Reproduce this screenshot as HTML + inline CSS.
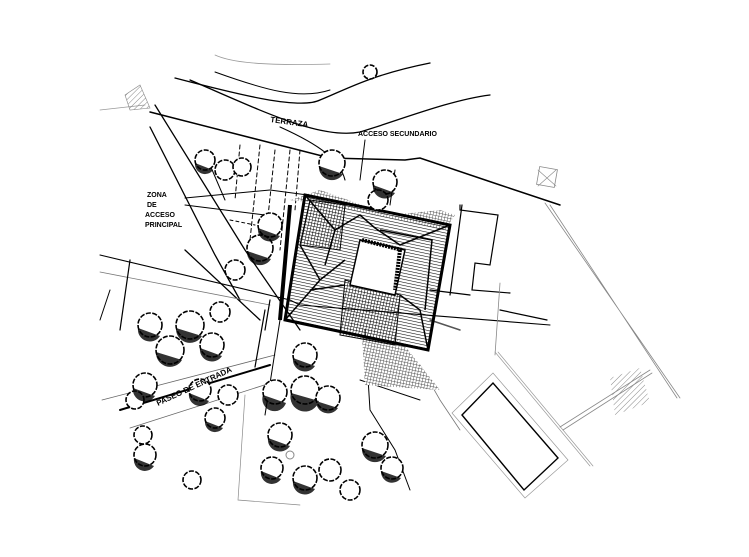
<!DOCTYPE html>
<html><head><meta charset="utf-8"><style>html,body{margin:0;padding:0;background:#fff}svg{display:block}</style></head>
<body>
<svg width="749" height="557" viewBox="0 0 749 557" xmlns="http://www.w3.org/2000/svg">
<defs>
<pattern id="h" width="3" height="3" patternUnits="userSpaceOnUse" patternTransform="rotate(12)"><line x1="0" y1="0" x2="3" y2="0" stroke="#000" stroke-width="1.1"/></pattern>
<pattern id="v" width="3" height="3" patternUnits="userSpaceOnUse" patternTransform="rotate(12)"><line x1="0" y1="0" x2="0" y2="3" stroke="#000" stroke-width="1"/></pattern>
<pattern id="g" width="3" height="3" patternUnits="userSpaceOnUse" patternTransform="rotate(12)"><rect width="3" height="3" fill="#fff"/><line x1="0" y1="0" x2="3" y2="0" stroke="#444" stroke-width=".9"/><line x1="0" y1="0" x2="0" y2="3" stroke="#444" stroke-width=".9"/></pattern>
<pattern id="d" width="4" height="4" patternUnits="userSpaceOnUse" patternTransform="rotate(45)"><line x1="0" y1="0" x2="0" y2="4" stroke="#888" stroke-width="1"/></pattern>
</defs>
<rect width="749" height="557" fill="#fff"/>
<g fill="none" stroke="#000" stroke-linecap="round">
<path d="M175 78 C240 95 300 110 320 100 C345 90 370 75 430 63" stroke-width="1.3"/>
<path d="M215 72 C265 90 300 100 330 90" stroke-width="1"/>
<path d="M190 80 C260 110 320 140 360 132 C400 120 450 100 490 95" stroke-width="1.3"/>
<path d="M280 127 C320 145 340 160 345 180" stroke-width="1.1"/>
<path d="M215 55 C230 62 260 66 330 64" stroke="#999" stroke-width=".8"/>
<path d="M150 112 L330 158 L405 160 L420 158 L500 185 L560 205" stroke-width="1.5"/>
<path d="M100 110 L145 105" stroke="#999" stroke-width=".8"/>
<path d="M155 105 L245 250 L300 330" stroke-width="1.3"/>
<path d="M150 127 L215 255 L240 300" stroke-width="1.3"/>
<path d="M185 250 L260 320" stroke-width="1.3"/>
<path d="M100 255 L290 300 L300 305 L550 325" stroke-width="1.1"/>
<path d="M100 272 L270 305" stroke="#777" stroke-width=".8"/>
<path d="M130 260 L120 330" stroke-width="1.2"/>
<path d="M120 410 L270 365" stroke-width="2"/>
<path d="M102 400 L275 355" stroke="#666" stroke-width=".8"/>
<path d="M130 428 L280 380" stroke="#666" stroke-width=".8"/>
<path d="M265 310 L255 367" stroke-width="1.2"/>
<path d="M280 320 L265 415" stroke-width="1"/>
<path d="M270 300 L265 330" stroke-width="1.2"/>
<path d="M260 145 L250 240 M275 150 L265 245 M290 150 L280 250 M240 145 L235 200 M300 150 L295 210" stroke-width="1" stroke-dasharray="4 3"/>
<path d="M230 220 L255 225" stroke-dasharray="3 3"/>
<path d="M185 205 L265 215 M185 198 L270 190 M365 140 L360 180 M210 165 L225 200" stroke-width="1"/>
<path d="M270 190 L345 200" stroke-width="1"/>
<path d="M395 170 L390 205" stroke-width="1"/>
<path d="M460 205 L460 210 L498 215 L490 265 L475 263 L472 290 L510 293" stroke-width="1.2"/>
<path d="M462 205 L450 295" stroke-width="1.2"/>
<path d="M430 290 L470 295 M500 310 L547 320" stroke-width="1.2"/>
<path d="M430 320 L460 330" stroke="#555" stroke-width="1.5"/>
<path d="M500 283 L495 355" stroke="#888" stroke-width=".8"/>
<path d="M545 203 L680 398 M550 205 L677 398" stroke="#888" stroke-width=".8"/>
<path d="M495 352 L590 466 M498 352 L593 466" stroke="#999" stroke-width=".7"/>
<path d="M560 427 L650 370 M563 430 L652 373" stroke="#888" stroke-width=".8"/>
<rect x="538" y="168" width="18" height="18" transform="rotate(10 547 177)" stroke="#888" stroke-width=".8"/>
<path d="M538 170 L556 186 M556 170 L538 186" stroke="#888" stroke-width=".6"/>
<path d="M462 415 L493 383 L558 458 L524 490 Z" stroke-width="1.4"/>
<path d="M452 413 L493 373 L568 460 L525 498 Z" stroke="#999" stroke-width=".7"/>
<path d="M365 330 L370 410 L395 450 L410 490" stroke-width="1"/>
<path d="M420 365 L440 400 L460 430" stroke="#777" stroke-width=".8"/>
<path d="M360 380 L420 400" stroke-width="1"/>
<path d="M245 395 L238 500 L300 505" stroke="#888" stroke-width=".7"/>
<path d="M100 320 L110 290" stroke-width="1"/>
</g>
<polygon points="290,200 320,190 390,215 440,210 455,215 445,230 410,222 330,205" fill="url(#g)"/>
<polygon points="362,335 400,340 440,390 365,385" fill="url(#g)"/>
<polygon points="610,378 640,368 650,402 615,415" fill="url(#d)"/>
<polygon points="125,95 140,85 150,108 130,110" fill="url(#d)" stroke="#888" stroke-width=".6"/>
<g stroke="#000">
<polygon points="305,195 450,225 428,350 285,320" fill="url(#h)" stroke-width="3"/>
<polygon points="310,200 345,205 340,250 300,245" fill="url(#v)" stroke-width="1"/>
<polygon points="345,280 400,295 395,345 340,335" fill="url(#v)" stroke-width="1"/>
<polygon points="360,240 405,250 395,295 350,285" fill="#fff" stroke-width="1.5"/>
<line x1="400" y1="250" x2="395" y2="290" stroke-width="4" stroke-dasharray="2 1"/>
<line x1="362" y1="240" x2="402" y2="250" stroke-width="4" stroke-dasharray="2 1"/>
<path d="M305 195 L335 230 L360 215 L375 228 L400 245 L450 225 M335 230 L325 265 M300 245 L320 280 L345 260 M285 320 L320 280 M345 285 L310 290 M400 295 L420 310 L428 350 M380 230 L432 240 L425 310" fill="none" stroke-width="1.5"/>
<path d="M290 205 L280 320" stroke-width="4" fill="none"/>
</g>
<g stroke="#000" stroke-width="1.6" fill="#fff" stroke-dasharray="5 1.5">
<circle cx="150" cy="325" r="12"/><circle cx="190" cy="325" r="14"/><circle cx="220" cy="312" r="10"/><circle cx="212" cy="345" r="12"/><circle cx="170" cy="350" r="14"/><circle cx="145" cy="385" r="12"/><circle cx="135" cy="400" r="9"/><circle cx="200" cy="390" r="11"/><circle cx="228" cy="395" r="10"/><circle cx="215" cy="418" r="10"/><circle cx="275" cy="392" r="12"/><circle cx="305" cy="390" r="14"/><circle cx="328" cy="398" r="12"/><circle cx="305" cy="355" r="12"/><circle cx="280" cy="435" r="12"/><circle cx="272" cy="468" r="11"/><circle cx="305" cy="478" r="12"/><circle cx="330" cy="470" r="11"/><circle cx="375" cy="445" r="13"/><circle cx="392" cy="468" r="11"/><circle cx="350" cy="490" r="10"/><circle cx="385" cy="182" r="12"/><circle cx="378" cy="200" r="10"/><circle cx="332" cy="163" r="13"/><circle cx="270" cy="225" r="12"/><circle cx="260" cy="248" r="13"/><circle cx="235" cy="270" r="10"/><circle cx="205" cy="160" r="10"/><circle cx="225" cy="170" r="10"/><circle cx="242" cy="167" r="9"/><circle cx="145" cy="455" r="11"/><circle cx="143" cy="435" r="9"/><circle cx="192" cy="480" r="9"/><circle cx="370" cy="72" r="7"/>
</g>
<g fill="#000" opacity=".8">
<path d="M138 328 a12 12 0 0 0 22 8 z M176 328 a14 14 0 0 0 26 8z M156 352 a14 14 0 0 0 26 8z M133 388 a12 12 0 0 0 22 8z M263 395 a12 12 0 0 0 23 8z M291 393 a14 14 0 0 0 28 8z M293 358 a12 12 0 0 0 22 8z M268 438 a12 12 0 0 0 22 8z M261 471 a11 11 0 0 0 20 8z M293 481 a12 12 0 0 0 22 8z M362 448 a13 13 0 0 0 24 8z M258 228 a12 12 0 0 0 22 8z M247 251 a13 13 0 0 0 24 8z M319 166 a13 13 0 0 0 24 8z M373 185 a12 12 0 0 0 22 8z M134 458 a11 11 0 0 0 20 8z M200 348 a12 12 0 0 0 22 8z M189 393 a11 11 0 0 0 20 8z M205 421 a10 10 0 0 0 18 7z M195 163 a10 10 0 0 0 18 7z M316 401 a12 12 0 0 0 22 7z M381 471 a11 11 0 0 0 20 7z"/>
</g>
<circle cx="290" cy="455" r="4" fill="none" stroke="#888"/>
<g font-family="Liberation Sans, sans-serif" font-size="8" fill="#000" font-weight="bold">
<text x="270" y="122" transform="rotate(8 270 122)">TERRAZA</text>
<text x="358" y="136" font-size="7">ACCESO SECUNDARIO</text>
<text x="147" y="197" font-size="7">ZONA</text>
<text x="147" y="207" font-size="7">DE</text>
<text x="145" y="217" font-size="7">ACCESO</text>
<text x="145" y="227" font-size="7">PRINCIPAL</text>
<text x="158" y="406" font-size="8" transform="rotate(-25 158 406)">PASEO DE ENTRADA</text>
</g>
</svg>
</body></html>
